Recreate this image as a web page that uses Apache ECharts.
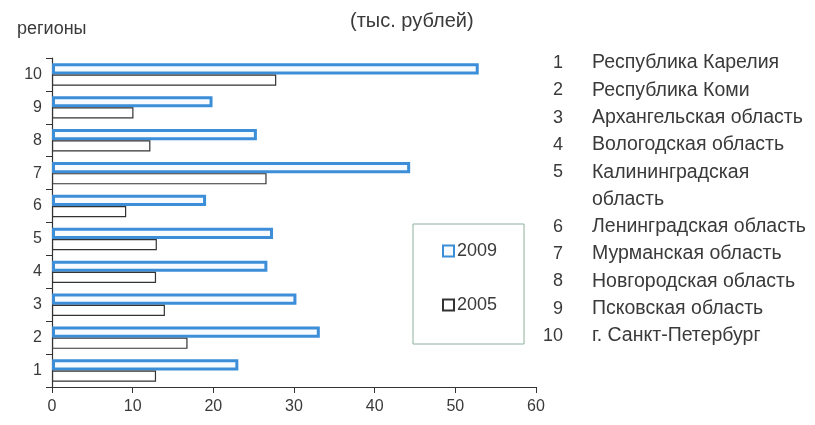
<!DOCTYPE html>
<html>
<head>
<meta charset="utf-8">
<script src="https://cdn.jsdelivr.net/npm/echarts@6/dist/echarts.min.js"></script>
<style>
html,body{margin:0;padding:0;background:#fff;}
#chart{width:815px;height:425px;}
</style>
</head>
<body>
<div id="chart"></div>
<script>
const categories = ['1','2','3','4','5','6','7','8','9','10'];
const values2009 = [23.1, 33.2, 30.3, 26.7, 27.4, 19.1, 44.4, 25.4, 19.9, 52.9];
const values2005 = [12.9, 16.8, 14.0, 12.9, 13.0, 9.2, 26.6, 12.2, 10.1, 27.8];
const seriesNames = ['2009', '2005'];
const regionNumbers = ['1','2','3','4','5','6','7','8','9','10'];
const regionNames = [
  'Республика Карелия',
  'Республика Коми',
  'Архангельская область',
  'Вологодская область',
  'Калининградская\nобласть',
  'Ленинградская область',
  'Мурманская область',
  'Новгородская область',
  'Псковская область',
  'г. Санкт-Петербург'
];
const yAxisTitle = 'регионы';
const unitLabel = '(тыс. рублей)';

const FONT = '"Liberation Sans", Arial, sans-serif';
const TXT = '#3a3a3a';

const chart = echarts.init(document.getElementById('chart'), null, {renderer: 'canvas'});

// right-side list of regions
const graphics = [];
const lineH = 27.3;
let line = 0;
regionNames.forEach((name, i) => {
  const y0 = 63 + line * lineH;
  graphics.push({
    type: 'text', x: 563, y: y0,
    style: {text: regionNumbers[i], font: '18px ' + FONT, fill: TXT, align: 'right', verticalAlign: 'middle'}
  });
  name.split('\n').forEach((part, k) => {
    graphics.push({
      type: 'text', x: 592, y: y0 + k * lineH,
      style: {text: part, font: '19.5px ' + FONT, fill: TXT, align: 'left', verticalAlign: 'middle'}
    });
  });
  line += name.split('\n').length;
});
graphics.push({type: 'text', x: 17, y: 29, style: {text: yAxisTitle, font: '18px ' + FONT, fill: TXT, verticalAlign: 'middle'}});
graphics.push({type: 'text', x: 350, y: 21, style: {text: unitLabel, font: '20px ' + FONT, fill: TXT, verticalAlign: 'middle'}});

chart.setOption({
  animation: false,
  backgroundColor: '#ffffff',
  grid: {left: 52, right: 279, top: 58, bottom: 38, containLabel: false},
  legend: {
    data: seriesNames,
    orient: 'vertical',
    left: 413, top: 224,
    padding: [18, 27, 30, 29],
    itemGap: 36,
    itemWidth: 11, itemHeight: 11,
    icon: 'rect',
    borderColor: '#8fb09c', borderWidth: 1,
    textStyle: {fontSize: 18, color: TXT, fontFamily: FONT, padding: [0, 0, 0, -2]}
  },
  xAxis: {
    type: 'value', min: 0, max: 60, interval: 10,
    axisLine: {show: true, lineStyle: {color: '#333', width: 1.2}},
    axisTick: {show: true, length: 6, lineStyle: {color: '#333'}},
    axisLabel: {fontSize: 16, color: TXT, fontFamily: FONT, margin: 12},
    splitLine: {show: false}
  },
  yAxis: {
    type: 'category', data: categories,
    axisLine: {show: true, lineStyle: {color: '#333', width: 1.2}},
    axisTick: {show: true, length: 6, lineStyle: {color: '#333'}},
    axisLabel: {fontSize: 16, color: TXT, fontFamily: FONT, margin: 10}
  },
  series: [
    {
      name: '2009', type: 'bar', data: values2009,
      barGap: '0%', barCategoryGap: '32%',
      itemStyle: {color: '#f7fbff', borderColor: '#3d8ed8', borderWidth: 3}
    },
    {
      name: '2005', type: 'bar', data: values2005,
      barGap: '0%', barCategoryGap: '32%',
      itemStyle: {color: '#ffffff', borderColor: '#333333', borderWidth: 1.2}
    }
  ],
  graphic: graphics
});
</script>
</body>
</html>
